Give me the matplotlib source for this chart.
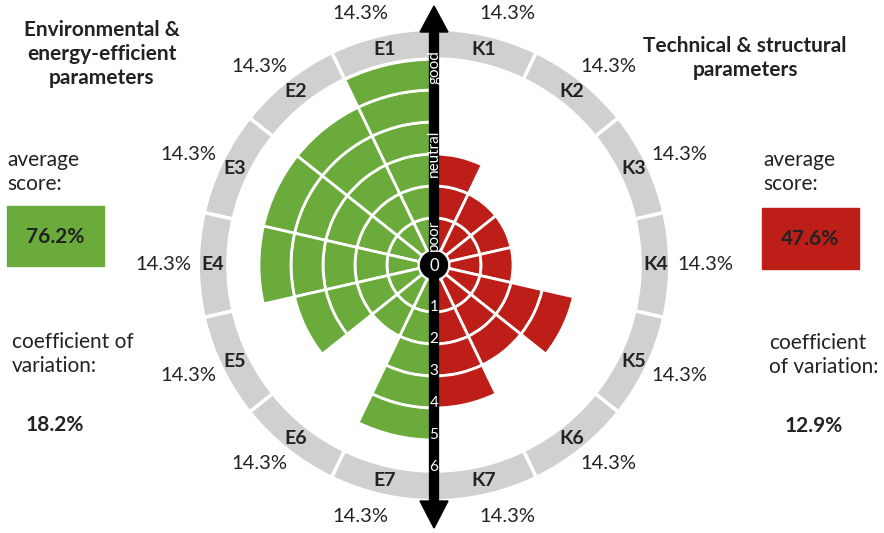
import numpy as np
import matplotlib
matplotlib.use("Agg")
import matplotlib.pyplot as plt
from matplotlib.patches import Polygon, Circle, Rectangle

plt.rcParams['font.family'] = ['Lato', 'DejaVu Sans']

# scores per parameter on a 0..6 scale
env_labels = ['E1', 'E2', 'E3', 'E4', 'E5', 'E6', 'E7']
env_scores = [6, 5, 5, 5, 4, 2, 5]
tech_labels = ['K1', 'K2', 'K3', 'K4', 'K5', 'K6', 'K7']
tech_scores = [3, 2, 2, 2, 4, 3, 4]
env_weights = ['14.3%'] * 7
tech_weights = ['14.3%'] * 7
env_avg, env_cv = '76.2%', '18.2%'
tech_avg, tech_cv = '47.6%', '12.9%'
scale_ticks = [1, 2, 3, 4, 5, 6]
scale_words = ['poor', 'neutral', 'good']

green = '#6AAB3C'
red = '#BE1E18'
gray = '#D0D0D0'
txt = '#222222'

W, H = 884, 533
fig = plt.figure(figsize=(W / 100, H / 100), dpi=100)

# polar part, center of the wheel at (434, 265) px
cx, cy, R = 434, 265, 239
pol = fig.add_axes([(cx - R) / W, (H - cy - R) / H, 2 * R / W, 2 * R / H],
                   projection='polar')
pol.set_theta_zero_location('N')
pol.set_theta_direction(-1)
pol.set_rorigin(-0.47)
pol.set_ylim(0, 7.0)
pol.set_axis_off()

w = 2 * np.pi / 14

def draw_side(scores, labels, weights, color, sign):
    for i, s in enumerate(scores):
        th = sign * (i + 0.5) * w
        # one block per score level
        pol.bar([th] * s, [1] * s, width=w, bottom=np.arange(s),
                color=color, edgecolor='white', linewidth=2)
        # grey outer ring segment with label
        pol.bar(th, 0.93, width=w, bottom=5.97, color=gray,
                edgecolor='white', linewidth=2.5)
        pol.text(th, 6.45, labels[i], ha='center', va='center',
                 fontsize=14, fontweight='bold', color=txt)
        a = np.degrees((i + 0.5) * w)
        a_lab = np.radians(a + 3.5 * np.cos(np.radians(a)))
        r_px = 271 - 10 * np.cos(np.radians(a)) ** 2
        pol.text(sign * a_lab, (r_px - 15) / 32, weights[i], ha='center',
                 va='center', fontsize=14.5, color=txt)

draw_side(tech_scores, tech_labels, tech_weights, red, 1)
draw_side(env_scores, env_labels, env_weights, green, -1)

# overlay in pixel coordinates
ov = fig.add_axes([0, 0, 1, 1], zorder=5)
ov.set_xlim(0, W)
ov.set_ylim(H, 0)
ov.axis('off')
ov.patch.set_alpha(0)

ov.plot([cx, cx], [30, 503], color='black', lw=7.4, solid_capstyle='butt')
ov.add_patch(Polygon([(cx - 14, 32), (cx + 14, 32), (cx, 6)], color='black'))
ov.add_patch(Polygon([(cx - 14, 501), (cx + 14, 501), (cx, 528)], color='black'))
ov.add_patch(Circle((cx, cy), 13.5, color='black'))
ov.text(cx, cy + 1, '0', color='white', fontsize=12, ha='center', va='center')

for t in scale_ticks:
    ov.text(np.pi, t - 0.15, str(t), transform=pol.transData, color='white',
            fontsize=11, ha='center', va='center')
for word, r in zip(scale_words, [0.47, 3.03, 5.72]):
    ov.text(0, r, word, transform=pol.transData, color='white', fontsize=11,
            rotation=90, ha='center', va='center')

# left panel
ov.text(102, 54, 'Environmental &\nenergy-efficient\nparameters', ha='center',
        va='center', fontsize=15, fontweight='bold', color=txt, linespacing=1.25)
ov.text(7, 172, 'average\nscore:', ha='left', va='center', fontsize=15,
        color=txt, linespacing=1.28)
ov.add_patch(Rectangle((7, 206), 97, 60, color=green))
ov.text(55, 237, env_avg, ha='center', va='center', fontsize=15,
        fontweight='bold', color=txt)
ov.text(12, 354, 'coefficient of\nvariation:', ha='left', va='center',
        fontsize=15, color=txt, linespacing=1.28)
ov.text(55, 425, env_cv, ha='center', va='center', fontsize=15,
        fontweight='bold', color=txt)

# right panel
ov.text(745, 58, 'Technical & structural\nparameters', ha='center', va='center',
        fontsize=15, fontweight='bold', color=txt, linespacing=1.3)
ov.text(763, 172, 'average\nscore:', ha='left', va='center', fontsize=15,
        color=txt, linespacing=1.28)
ov.add_patch(Rectangle((762, 208), 97, 61, color=red))
ov.text(810, 239, tech_avg, ha='center', va='center', fontsize=15,
        fontweight='bold', color=txt)
ov.text(769, 355, 'coefficient\nof variation:', ha='left', va='center',
        fontsize=15, color=txt, linespacing=1.28)
ov.text(814, 426, tech_cv, ha='center', va='center', fontsize=15,
        fontweight='bold', color=txt)

fig.savefig('out.png', dpi=100)
